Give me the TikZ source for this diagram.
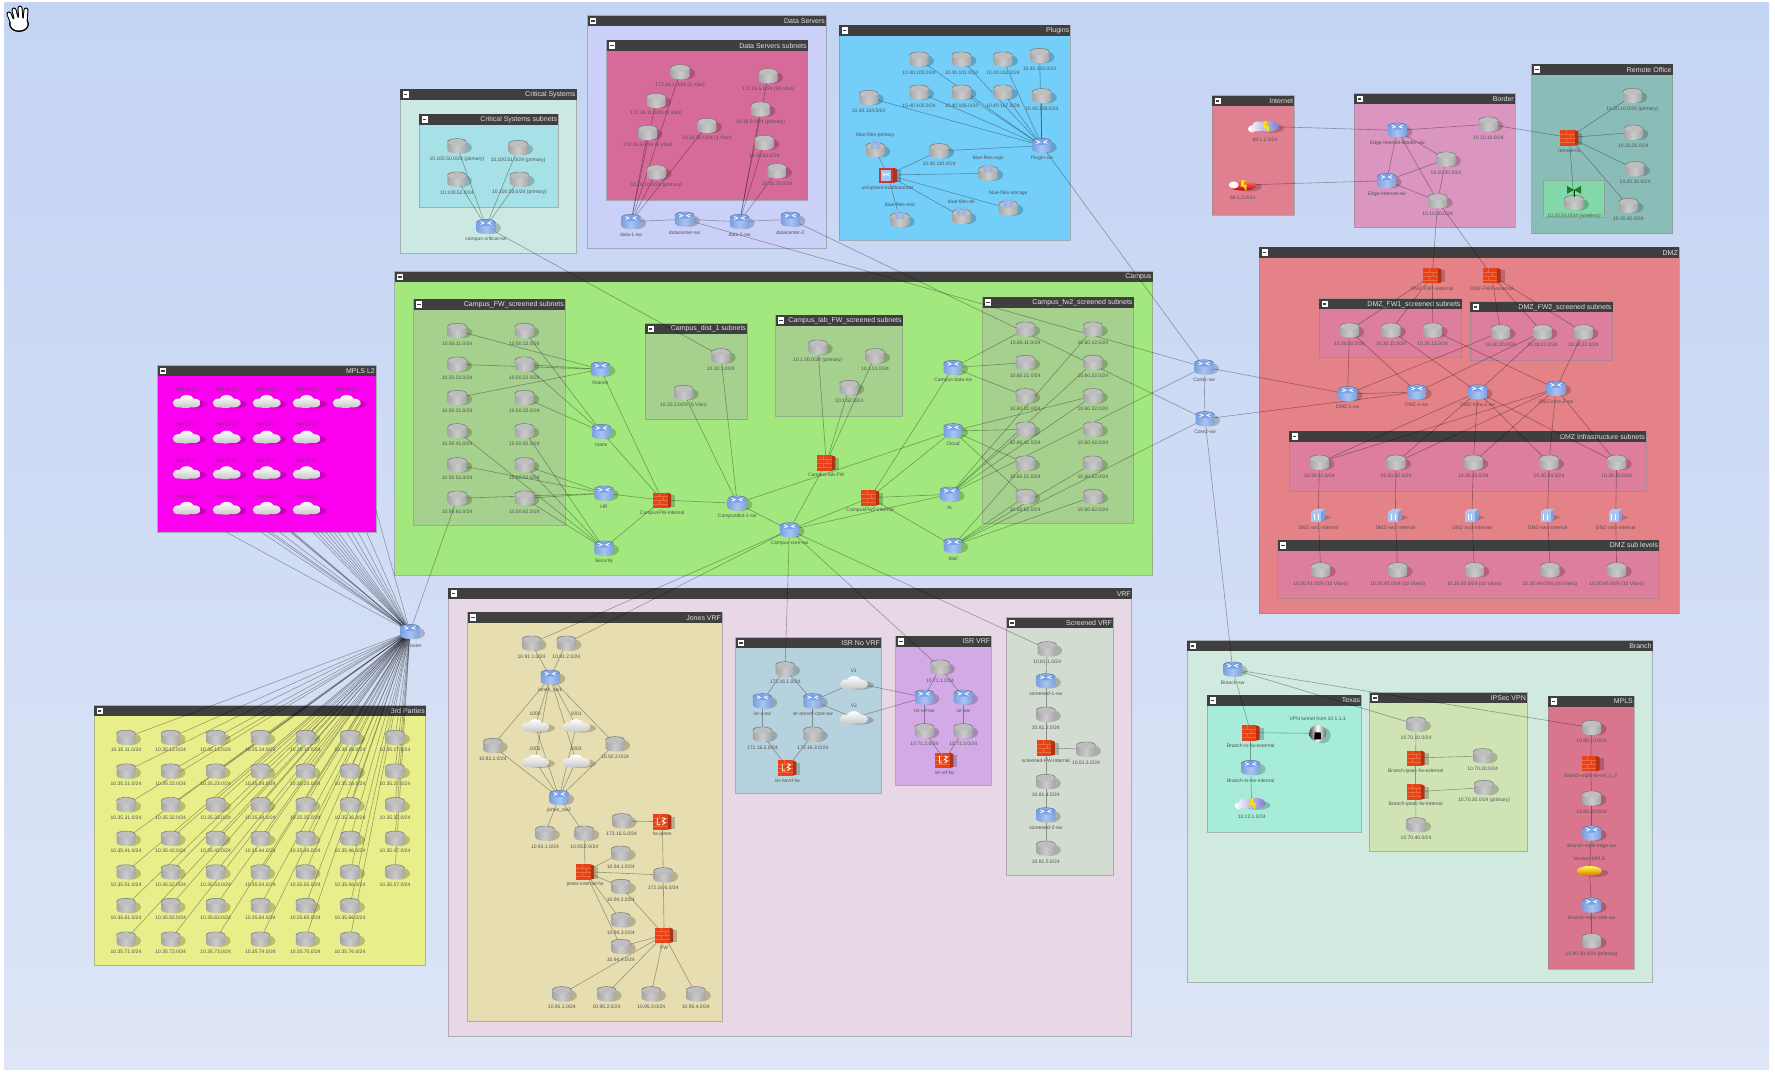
\documentclass[tikz,border=0pt]{standalone}
\usepackage{fontspec}
\setmainfont{Liberation Sans}
\usetikzlibrary{calc}
\pgfdeclarelayer{groups}
\pgfdeclarelayer{edges}
\pgfsetlayers{groups,edges,main}
\definecolor{barc}{HTML}{3F3F3F}
\definecolor{bgT}{HTML}{C4D4F4}\definecolor{bgB}{HTML}{DDE5F6}
\definecolor{srvL}{HTML}{A6A6A6}\definecolor{srvM}{HTML}{CBCBCB}\definecolor{srvT}{HTML}{BEBEBE}
\definecolor{rtrL}{HTML}{7C9FE0}\definecolor{rtrM}{HTML}{A8C4F0}\definecolor{rtrT}{HTML}{7AA2E6}
\definecolor{fwF}{HTML}{E8421A}\definecolor{fwS}{HTML}{B03214}\definecolor{fwL}{HTML}{EE6A3A}
\definecolor{antg}{HTML}{82D8A8}
\tikzset{
 sdw/.style={fill=black,opacity=.2},
 lbl/.style={font=\fontsize{5}{6}\selectfont,text=black!68,inner sep=0pt},
 ttl/.style={font=\fontsize{7}{8}\selectfont,text=white!88!black,inner sep=0pt,minimum height=10.5pt},
 grpbox/.style={draw=black!45,line width=1pt,draw opacity=.6},
 edge/.style={draw=black,opacity=.33,line width=.6pt},
}
\newcommand\myicyl[3]{%
 \fill[sdw] (5,1.5) ellipse [x radius=10pt,y radius=6pt];
 \shade[left color=#1,right color=#1,middle color=#2] (-9.5,-4) -- (-9.5,4) .. controls (-9.5,8.5) and (9.5,8.5) .. (9.5,4) -- (9.5,-4) .. controls (9.5,-8.5) and (-9.5,-8.5) .. (-9.5,-4) -- cycle;
 \fill[#3] (0,-3.6) ellipse [x radius=8.8pt,y radius=3pt];
 \draw[#1!65!black,line width=.4pt] (-9.5,-4) .. controls (-9.5,-8.5) and (9.5,-8.5) .. (9.5,-4);}
\newcommand\myicsrv{\myicyl{srvL}{srvM}{srvT}}
\newcommand\myicrtr{\myicyl{rtrL}{rtrM}{rtrT}%
 \draw[white,line width=.8pt] (-5.5,-5.2) -- (-2,-3.6) -- (-5.5,-2.2) (5.5,-5.2) -- (2,-3.6) -- (5.5,-2.2);}
\newcommand\myicfw{%
 \fill[sdw] (3,-5) rectangle (13,7);
 \fill[fwS] (5,-7.5) -- (9,-6) -- (9,7) -- (5,8) -- cycle;
 \fill[fwF] (-9,-7.5) rectangle (5.5,8);
 \draw[fwL,line width=.4pt] (-9,-3.5) -- (5.5,-3.5) (-9,0.5) -- (5.5,0.5) (-9,4.5) -- (5.5,4.5) (-3,-7.5) -- (-3,-3.5) (1,-3.5) -- (1,.5) (-3,.5) -- (-3,4.5);}
\newcommand\myicfwl{\myicfw
 \draw[white,line width=.8pt] (-5,-4) -- (-5,3) -- (-2,3) (0,-4) -- (3,-3) -- (0,-.5) -- (3,1) -- (0,3);}
\newcommand\mycloudpath{(-8,1.5) ellipse [x radius=6pt,y radius=4.5pt] (0,-1.5) ellipse [x radius=7pt,y radius=5pt] (7,1.5) ellipse [x radius=7pt,y radius=4.5pt] (-1,3) ellipse [x radius=9pt,y radius=3.5pt]}
\newcommand\myiccloud{%
 \fill[sdw] (5,2.5) ellipse [x radius=15pt,y radius=4.5pt];
 \shade[top color=white,bottom color=black!22] \mycloudpath;}
\newcommand\mybolt{\fill[yellow!85!orange] (-1,-5) -- (2,-5) -- (1,-.5) -- (4,-.5) -- (3.5,6) -- (.5,1.5) -- (-2,1.5) -- cycle;}
\newcommand\myicbolt{%
 \fill[sdw] (6,2) ellipse [x radius=13pt,y radius=4.5pt];
 \shade[left color=white,right color=blue!45!gray!70] (-13,2.5) ellipse [x radius=4pt,y radius=3.5pt] (-7,0) ellipse [x radius=6pt,y radius=5pt] (3,0) ellipse [x radius=11pt,y radius=5.5pt];
 \mybolt}
\newcommand\myicred{%
 \fill[sdw] (6,2) ellipse [x radius=13pt,y radius=4.5pt];
 \shade[top color=red!50!white,bottom color=red!75!black] (0,.5) ellipse [x radius=14pt,y radius=5pt];
 \fill[white] (-9,0) ellipse [x radius=5pt,y radius=3.5pt];
 \mybolt}
\newcommand\myicsw{%
 \fill[sdw] (2,-2) -- (13,2) -- (3,6) -- cycle;
 \fill[rtrL] (3,-3.5) -- (6.5,-6.5) -- (6.5,3) -- (3,7) -- cycle;
 \fill[rtrM] (-7,-3.5) rectangle (3,7);
 \fill[rtrT!60!white] (-7,-3.5) -- (-3,-6.5) -- (6.5,-6.5) -- (3,-3.5) -- cycle;
 \draw[white,line width=.6pt] (-4,-1) -- (-4,5) (-.5,-1) -- (-.5,5);}
\newcommand\myicplug{\myicsrv
 \fill[rtrT!80!white,rounded corners=1pt] (-4.5,-10) rectangle (-1,-1);
 \fill[rtrT!80!white,rounded corners=1pt] (1,-10) rectangle (4.5,-1);}
\newcommand\myichub{%
 \fill[sdw] (3,-5) rectangle (13,7);
 \fill[fwS] (5,-7.5) -- (9,-6) -- (9,7) -- (5,8) -- cycle;
 \fill[red!55!gray] (-9,-7.5) rectangle (5.5,8);
 \fill[rtrM] (-7,-5) rectangle (3,5.5);
 \draw[white,line width=.7pt] (-5,-2) -- (-2.5,-.5) -- (-5,1) (1.5,-2) -- (-1,-.5) -- (1.5,1);}
\newcommand\myicgold{%
 \fill[sdw] (6,2) ellipse [x radius=13pt,y radius=4pt];
 \shade[top color=yellow!70!white,bottom color=orange!85!black] (0,0) ellipse [x radius=12.5pt,y radius=5pt];}
\newcommand\myicball{%
 \fill[sdw] (5,2) circle [radius=8pt];
 \shade[left color=black!70,right color=black!60,middle color=white] (0,0) circle [radius=8.5pt];
 \fill[black] (-3,-1) -- (3,-1) -- (3.5,6) -- (-3.5,6) -- cycle;}
\newcommand\myicant{\myicsrv
 \fill[green!35!black,opacity=.75] (0,-13) -- (-7,-17) -- (-7,-9) -- cycle (0,-13) -- (7,-17) -- (7,-9) -- cycle;
 \draw[green!25!black,line width=.6pt] (0,-13) -- (0,-6);}
% device: [label offset] type name x y label
\newcommand\dv[6][13]{%
 \node[coordinate] (#3) at (#4,#5) {};
 \node[lbl] (#3-l) at ([yshift={-1pt*(#1)}]#3) {#6};
 \begin{scope}[shift={(#3)},x=1pt,y=-1pt]\csname myic#2\endcsname\end{scope}}
% group: name x1 y1 x2 y2 fill title
\newcommand\grp[7]{%
 \begin{pgfonlayer}{groups}
 \definecolor{grpc}{HTML}{#6}%
 \coordinate (#1-a) at (#2,#3);\coordinate (#1-b) at (#4,#5);
 \coordinate (#1-c) at ([yshift=-10.5pt]#1-a);\coordinate (#1-r) at (#1-b |- #1-a);
 \filldraw[grpbox,fill=grpc] (#1-a) rectangle (#1-b);
 \fill[barc] (#1-a) rectangle (#1-b |- #1-c);
 \node[ttl,anchor=north east] (#1-t) at ([xshift=-1pt]#1-r) {#7};
 \fill[white] ([xshift=2.5pt,yshift=-2pt]#1-a) rectangle ([xshift=8.5pt,yshift=-8.5pt]#1-a);
 \fill[barc] ([xshift=3.5pt,yshift=-4.5pt]#1-a) rectangle ([xshift=7pt,yshift=-6pt]#1-a);
 \end{pgfonlayer}}
\begin{document}
\begin{tikzpicture}[x=1pt,y=-1pt]
\useasboundingbox (0,0) rectangle (1775,1071);
\begin{pgfonlayer}{groups}
\fill[white] (0,0) rectangle (1775,1071);
\shade[top color=bgT,bottom color=bgB] (4.5,2.5) rectangle (1769,1069);
\end{pgfonlayer}
% hand cursor
\begin{scope}[line cap=round]
\node[coordinate] (hand) at (18,20) {};
\draw[black,line width=5pt] (9,14) -- (13,24) (14,10) -- (17,22) (20,8) -- (21,22) (26,10) -- (25,22);
\fill[black] (19,24) ellipse [x radius=10pt,y radius=8pt];
\draw[white,line width=3pt] (9,14) -- (13,24) (14,10) -- (17,22) (20,8) -- (21,22) (26,10) -- (25,22);
\fill[white] (19,24) ellipse [x radius=8.5pt,y radius=6.5pt];
\end{scope}

% ===== zone 1: critical, data, plugins
\begin{scope}[shift={(390,0)},x=.44643pt,y=-.33333pt]
\grp{gcrit}{23}{267}{418}{761}{CBE8E2}{Critical Systems}
\grp{gcrits}{65}{342}{377}{621}{A5E1E6}{Critical Systems subnets}
\grp{gdata}{443}{47}{977}{746}{CBD0F8}{Data Servers}
\grp{gdatas}{485}{121}{936}{601}{D66A98}{Data Servers subnets}
\grp{gplug}{1006}{75}{1524}{721}{73CFFA}{Plugins}
\dv{srv}{cs1}{150}{438}{10.100.50.0/24 (primary)}
\dv{srv}{cs2}{287}{443}{10.100.51.0/24 (primary)}
\dv{srv}{cs3}{150}{538}{10.100.52.0/24}
\dv{srv}{cs4}{290}{538}{10.100.53.0/24 (primary)}
\dv{rtr}{cr}{215}{680}{campus-critical-sw}
\dv{srv}{ds1}{650}{216}{172.16.1.0/24 (5 Vlan)}
\dv{srv}{ds2}{847}{228}{172.16.5.0/24 (50 Vlan)}
\dv{srv}{ds3}{596}{302}{172.16.11.0/24 (5 Vlan)}
\dv{srv}{ds4}{830}{328}{10.16.0.0/24 (primary)}
\dv{srv}{ds5}{710}{377}{10.16.50.0/24 (1 Vlan)}
\dv{srv}{ds6}{577}{398}{172.16.5.0/24 (5 Vlan)}
\dv{srv}{ds7}{838}{428}{10.16.60.0/24}
\dv{srv}{ds8}{597}{517}{10.16.10.0/24 (primary)}
\dv{srv}{ds9}{867}{513}{10.16.70.0/24}
\dv{rtr}{dr1}{540}{665}{data-1-sw}
\dv{rtr}{dr2}{660}{658}{datacenter-sw}
\dv{rtr}{dr3}{783}{665}{data-2-sw}
\dv{rtr}{dr4}{897}{658}{datacenter-2}
\dv{srv}{ps1}{1185}{178}{10.40.100.0/24}
\dv{srv}{ps2}{1280}{178}{10.40.101.0/24}
\dv{srv}{ps3}{1373}{178}{10.40.102.0/24}
\dv{srv}{ps4}{1455}{167}{10.40.103.0/24}
\dv{srv}{ps5}{1072}{293}{10.40.104.0/24}
\dv{srv}{ps6}{1185}{277}{10.40.105.0/24}
\dv{srv}{ps7}{1280}{277}{10.40.106.0/24}
\dv{srv}{ps8}{1373}{277}{10.40.107.0/24}
\dv{srv}{ps9}{1460}{288}{10.40.108.0/24}
\dv{rtr}{pr}{1460}{437}{Plugin-sw}
\dv{srv}{ps10}{1230}{453}{10.40.110.0/24}
\dv[-15]{plug}{pb1}{1087}{450}{blue-files-primary}
\dv[-15]{plug}{pb2}{1340}{520}{blue-files-sign}
\dv[-15]{plug}{pb3}{1142}{660}{blue-files-test}
\dv[-15]{plug}{pb4}{1280}{650}{blue-files-ok}
\dv[-15]{plug}{pb5}{1385}{625}{blue-files-storage}
\dv{hub}{phub}{1115}{525}{unisphere-loadbalancer}
\end{scope}

% ===== zone 2: campus
\begin{scope}[shift={(390,270)},x=.49745pt,y=-.33333pt]
\grp{gcamp}{10}{5}{1533}{916}{A2E87E}{Campus}
\grp{gfa}{48}{87}{352}{766}{A6D08E}{Campus\_FW\_screened subnets}
\grp{gdist}{513}{161}{718}{449}{A6D08E}{Campus\_dist\_1 subnets}
\grp{glab}{775}{136}{1031}{439}{A6D08E}{Campus\_lab\_FW\_screened subnets}
\grp{gfb}{1192}{82}{1495}{760}{A6D08E}{Campus\_fw2\_screened subnets}
\foreach \cc/\X in {1/135,2/270}
 \foreach \rr/\Y in {1/182,2/283,3/383,4/483,5/585,6/685}
  {\dv{srv}{fa\cc\rr}{\X}{\Y}{10.50.\rr\cc.0/24}}
\foreach \cc/\X in {1/1277,2/1413}
 \foreach \rr/\Y in {1/178,2/278,3/378,4/478,5/580,6/680}
  {\dv{srv}{fb\cc\rr}{\X}{\Y}{10.60.\rr\cc.0/24}}
\dv{rtr}{ca1}{423}{298}{finance}
\dv{rtr}{ca2}{425}{485}{loans}
\dv{rtr}{ca3}{430}{670}{HR}
\dv{rtr}{ca4}{430}{835}{Security}
\dv{fw}{cfw}{547}{690}{CampusFW-internal}
\dv{rtr}{cmid}{698}{700}{Campusdist-1-sw}
\dv{srv}{cd1}{665}{258}{10.20.1.0/24}
\dv{srv}{cd2}{590}{368}{10.20.2.0/24 (5 Vlan)}
\dv{srv}{cl1}{860}{232}{10.1.50.0/24 (primary)}
\dv{srv}{cl2}{975}{258}{10.1.51.0/24}
\dv{srv}{cl3}{923}{353}{10.1.52.0/24}
\dv{fw}{clf}{877}{578}{Campus-lab-FW}
\dv{rtr}{ccen}{803}{780}{Campus-core-sw}
\dv{fw}{cfr}{965}{683}{CampusFW2-internal}
\dv{rtr}{cb1}{1132}{293}{Campus-data-sw}
\dv{rtr}{cb2}{1132}{483}{Cloud}
\dv{rtr}{cb3}{1125}{673}{IA}
\dv{rtr}{cb4}{1132}{827}{Mail}
\end{scope}

% ===== zone 3: internet, border, remote office, DMZ
\begin{scope}[shift={(1200,60)},x=.33333pt,y=-.35714pt]
\grp{ginet}{37}{100}{283}{434}{E07F90}{Internet}
\grp{gbord}{462}{95}{945}{470}{DA96C0}{Border}
\grp{grem}{995}{12}{1418}{486}{8BBDB8}{Remote Office}
\begin{pgfonlayer}{groups}
\coordinate (gant-a) at (1030,336);\coordinate (gant-b) at (1212,442);
\filldraw[grpbox,fill=antg] (gant-a) rectangle (gant-b);
\end{pgfonlayer}
\grp{gdmz}{177}{524}{1437}{1550}{E58288}{DMZ}
\grp{gdf1}{358}{669}{785}{832}{DC7E9C}{DMZ\_FW1\_screened subnets}
\grp{gdf2}{810}{677}{1238}{842}{DC7E9C}{DMZ\_FW2\_screened subnets}
\grp{gdin}{267}{1040}{1338}{1208}{DC7E9C}{DMZ Infrastructure subnets}
\grp{gdsb}{233}{1344}{1378}{1507}{DC7E9C}{DMZ sub levels}
\dv{rtr}{core1}{12}{860}{Core1-sw}
\dv{rtr}{core2}{15}{1005}{Core2-sw}
\dv{bolt}{ib}{195}{186}{69.1.1.0/24}
\dv{red}{ir}{128}{350}{69.1.2.0/24}
\dv{rtr}{br1}{592}{197}{Edge-Internet-Border-sw}
\dv{srv}{bs1}{865}{180}{10.10.10.0/24}
\dv{srv}{bs2}{738}{278}{10.10.20.0/24}
\dv{rtr}{br2}{560}{338}{Edge-Internet-sw}
\dv{srv}{bs3}{713}{395}{10.10.30.0/24}
\dv{fw}{rf}{1108}{217}{remote-fw}
\dv{srv}{rs1}{1297}{100}{10.20.10.0/24 (primary)}
\dv{srv}{rs2}{1300}{203}{10.20.20.0/24}
\dv{srv}{rs3}{1305}{305}{10.20.30.0/24}
\dv{srv}{rs4}{1285}{408}{10.20.40.0/24}
\dv{ant}{rant}{1122}{400}{10.20.50.0/24 (wireless)}
\dv{fw}{df1}{697}{603}{DMZ-FW1-external}
\dv{fw}{df2}{875}{603}{DMZ-FW2-external}
\dv{srv}{da1}{448}{757}{10.30.10.0/24}
\dv{srv}{da2}{573}{757}{10.30.11.0/24}
\dv{srv}{da3}{698}{757}{10.30.12.0/24}
\dv{srv}{db1}{902}{762}{10.30.20.0/24}
\dv{srv}{db2}{1027}{762}{10.30.21.0/24}
\dv{srv}{db3}{1150}{762}{10.30.22.0/24}
\dv{rtr}{dm1}{443}{935}{DMZ-1-sw}
\dv{rtr}{dm2}{650}{930}{DMZ-2-sw}
\dv{rtr}{dm3}{833}{930}{DMZ-infra-1-sw}
\dv{rtr}{dm4}{1068}{920}{DMZ-infra-2-sw}
\foreach \cc/\X/\S/\T in {1/358/355/362,2/588/586/593,3/820/816/823,4/1047/1043/1050,5/1250/1247/1250}{
 \dv{srv}{di\cc}{\X}{1127}{10.30.3\cc.0/24}
 \dv[12]{sw}{dw\cc}{\S}{1275}{DMZ-sw\cc-internal}
 \dv[14]{srv}{ds0\cc}{\T}{1428}{10.30.4\cc.0/24 (10 Vlans)}
}
\end{scope}

% ===== zone 4: branch
\begin{scope}[shift={(1180,630)},x=.33333pt,y=-.33333pt]
\grp{gbra}{22}{32}{1418}{1058}{D0EAE0}{Branch}
\grp{gtx}{81}{195}{544}{606}{A6ECD8}{Texas}
\grp{gips}{569}{188}{1041}{665}{CFE3B5}{IPSec VPN}
\grp{gmpl}{1105}{198}{1362}{1018}{D9758C}{MPLS}
\dv{rtr}{br0}{158}{118}{Branch-sw}
\dv{fw}{tf}{212}{308}{Branch-tx-fw-external}
\dv[-15]{ball}{tb}{413}{310}{VPN tunnel from 10.1.1.1}
\dv{rtr}{tr}{212}{413}{Branch-tx-sw-internal}
\dv{bolt}{tc}{215}{520}{10.12.1.0/24}
\dv{srv}{is1}{708}{283}{10.70.10.0/24}
\dv{fw}{if1}{707}{384}{Branch-ipsec-fw-external}
\dv{srv}{is2}{908}{378}{10.70.20.0/24}
\dv{fw}{if2}{707}{485}{Branch-ipsec-fw-internal}
\dv{srv}{is3}{912}{473}{10.70.30.0/24 (primary)}
\dv{srv}{is4}{708}{585}{10.70.40.0/24}
\dv{srv}{ms1}{1235}{293}{10.80.10.0/24}
\dv{fw}{mf}{1232}{400}{Branch-mpls-fw-int\_1\_2}
\dv{srv}{ms2}{1235}{505}{10.80.20.0/24}
\dv{rtr}{mr1}{1235}{610}{Branch-mpls-edge-sw}
\dv[-12]{gold}{mg}{1228}{723}{Verizon-MPLS}
\dv{rtr}{mr2}{1235}{826}{Branch-mpls-core-sw}
\dv{srv}{ms3}{1235}{933}{10.80.30.0/24 (primary)}
\end{scope}

% ===== zone 5: VRF
\begin{scope}[shift={(440,580)},x=.44643pt,y=-.33333pt]
\grp{gvrf}{18}{25}{1550}{1368}{E8D8E6}{VRF}
\grp{gjon}{62}{97}{632}{1323}{E6DDB0}{Jones VRF}
\grp{gino}{662}{173}{988}{640}{B6D2DE}{ISR No VRF}
\grp{gisr}{1021}{168}{1235}{615}{D2AAE6}{ISR VRF}
\grp{gscr}{1269}{113}{1508}{885}{D2DCD0}{Screened VRF}
\dv{srv}{js1}{205}{190}{10.91.1.0/24}
\dv{srv}{js2}{283}{190}{10.91.2.0/24}
\dv{rtr}{jr1}{247}{292}{jones\_sw1}
\dv[-12]{cloud}{jc1}{213}{437}{1000}
\dv[-12]{cloud}{jc2}{305}{437}{1001}
\dv{srv}{js3}{118}{497}{10.92.1.0/24}
\dv{srv}{js4}{392}{492}{10.92.2.0/24}
\dv[-12]{cloud}{jc3}{213}{543}{1002}
\dv[-12]{cloud}{jc4}{305}{543}{1003}
\dv{rtr}{jr2}{267}{653}{jones\_sw2}
\dv{srv}{js5}{235}{760}{10.93.1.0/24}
\dv{srv}{js6}{323}{760}{10.93.2.0/24}
\dv{srv}{js7}{407}{723}{172.16.5.0/24}
\dv{fwl}{jl}{498}{725}{fw-jones}
\dv{srv}{js8}{405}{820}{10.94.1.0/24}
\dv{fw}{jf1}{325}{875}{jones-internal-fw}
\dv{srv}{js9}{500}{885}{172.16.6.0/24}
\dv{srv}{js10}{405}{920}{10.94.2.0/24}
\dv{srv}{js11}{405}{1020}{10.94.3.0/24}
\dv{fw}{jf2}{502}{1065}{FW}
\dv{srv}{js12}{405}{1100}{10.94.4.0/24}
\dv{srv}{jb1}{273}{1242}{10.95.1.0/24}
\dv{srv}{jb2}{373}{1242}{10.95.2.0/24}
\dv{srv}{jb3}{473}{1242}{10.95.3.0/24}
\dv{srv}{jb4}{573}{1242}{10.95.4.0/24}
\dv{srv}{ns0}{773}{267}{172.16.1.0/24}
\dv{rtr}{nr1}{722}{363}{isr-a-sw}
\dv{rtr}{nr2}{835}{363}{isr-nonvrf-core-sw}
\dv{srv}{ns1}{722}{463}{172.16.2.0/24}
\dv{srv}{ns2}{835}{463}{172.16.3.0/24}
\dv{fwl}{nl}{778}{563}{isr-novrf-fw}
\dv[-12]{cloud}{nc1}{927}{308}{V1}
\dv[-12]{cloud}{nc2}{927}{413}{V2}
\dv{srv}{vs0}{1120}{262}{10.71.1.0/24}
\dv{rtr}{vr1}{1085}{352}{isr-vrf-sw}
\dv{rtr}{vr2}{1172}{352}{isr-sw}
\dv{srv}{vs1}{1085}{453}{10.71.2.0/24}
\dv{srv}{vs2}{1172}{453}{10.71.3.0/24}
\dv{fwl}{vl}{1130}{540}{isr-vrf-fw}
\dv{srv}{ss1}{1360}{207}{10.81.1.0/24}
\dv{rtr}{sr1}{1357}{303}{screened-1-sw}
\dv{srv}{ss2}{1357}{403}{10.81.2.0/24}
\dv{fw}{sf}{1357}{503}{screened-FW-internal}
\dv{srv}{ss3}{1447}{508}{10.81.3.0/24}
\dv{srv}{ss4}{1357}{605}{10.81.4.0/24}
\dv{rtr}{sr2}{1357}{705}{screened-2-sw}
\dv{srv}{ss5}{1357}{805}{10.81.5.0/24}
\end{scope}

% ===== zone 6: MPLS L2, 3rd party, hub
\begin{scope}[shift={(80,360)},x=.33333pt,y=-.39541pt]
\grp{gml2}{233}{14}{888}{436}{FB00EE}{MPLS L2}
\grp{gtp}{43}{875}{1038}{1532}{E8EE8A}{3rd Parties}
\foreach \cc/\X in {1/320,2/440,3/560,4/680}
 \foreach \rr/\Y in {1/105,2/195,3/285,4/375}
  {\dv[-12]{cloud}{mc\cc\rr}{\X}{\Y}{site-\rr\cc-l2}}
\dv[-12]{cloud}{mc51}{800}{105}{site-15-l2}
\foreach \cc/\X in {1/138,2/272,3/407,4/541,5/676,6/810,7/945}
 \foreach \rr/\Y in {1/955,2/1040,3/1125,4/1210,5/1295}
  {\dv[12.5]{srv}{tp\cc\rr}{\X}{\Y}{10.35.\rr\cc.0/24}}
\foreach \cc/\X in {1/138,2/272,3/407,4/541,5/676,6/810}
 \foreach \rr/\Y in {6/1380,7/1465}
  {\dv[12.5]{srv}{tp\cc\rr}{\X}{\Y}{10.35.\rr\cc.0/24}}
\dv[14]{rtr}{hub}{990}{687}{hub-router}
\foreach \X in {440,545,565,575,600,632,636,640,700,712,725,738,750,762,775,800,815,835,860}
 \coordinate (mp\X) at (\X,436);
\coordinate (mp888) at (888,380);
\end{scope}

% ===== connectors
\begin{pgfonlayer}{edges}
\foreach \a/\b in {
 cr/cs1,cr/cs2,cr/cs3,cr/cs4,cr/cd1,
 dr1/ds1,dr1/ds3,dr1/ds5,dr1/ds6,dr1/ds8,
 dr3/ds2,dr3/ds4,dr3/ds7,dr3/ds9,dr1/dr2,dr2/dr3,dr3/dr4,dr2/core1,dr4/core2,
 pr/ps1,pr/ps2,pr/ps3,pr/ps4,pr/ps5,pr/ps6,pr/ps7,pr/ps8,pr/ps9,pr/ps10,
 phub/ps10,phub/pb1,phub/pb2,phub/pb3,phub/pb4,phub/pb5,pr/core1,
 ca1/fa11,ca1/fa12,ca1/fa22,ca1/fa13,ca2/fa21,ca2/fa22,ca2/fa23,
 ca3/fa15,ca3/fa16,ca3/fa25,ca3/fa26,ca4/fa14,ca4/fa24,ca4/fa25,ca4/fa26,
 ca1/cfw,ca2/cfw,ca3/cfw,ca4/cfw,cfw/cmid,cmid/cd1,cmid/cd2,cmid/ccen,cmid/cb2,
 ccen/clf,clf/cl1,clf/cl2,clf/cl3,ccen/cfr,ccen/cb3,cfr/cb1,cfr/cb2,cfr/cb3,cfr/cb4,
 cb1/fb11,cb1/fb12,cb1/fb13,cb2/fb14,cb2/fb15,cb2/fb16,cb2/fb23,
 cb3/fb21,cb3/fb22,cb3/fb23,cb3/fb14,cb4/fb15,cb4/fb16,cb4/fb25,cb4/fb26,
 cb3/core1,cb4/core2,core1/core2,core2/br0,fa16/hub,
 ib/br1,br1/bs1,bs1/rf,ir/br2,br1/br2,br1/bs2,br1/bs3,br2/bs2,br2/bs3,bs2/bs3,
 bs3/df1,bs3/df2,rf/rs1,rf/rs2,rf/rs3,rf/rs4,rf/rant,
 df1/da1,df1/da2,df1/da3,df2/db1,df2/db2,df2/db3,
 dm1/da1,dm2/da1,dm3/da2,dm4/da3,dm1/db1,dm2/db2,dm3/db2,dm4/db3,dm1/dm2,
 core1/dm1,core2/dm2,
 dm3/di1,dm3/di2,dm3/di3,dm3/di4,dm3/di5,dm4/di1,dm4/di2,dm4/di3,dm4/di4,dm4/di5,
 br0/tf,tf/tb,tf/tr,tr/tc,br0/is1,br0/ms1,is1/if1,if1/is2,if1/if2,if2/is3,if2/is4,
 ms1/mf,mf/ms2,ms2/mr1,mr1/mg,mg/mr2,mr2/ms3,
 ccen/js1,ccen/js2,ccen/ns0,ccen/vs0,ccen/ss1,
 js1/jr1,js2/jr1,jr1/jc1,jr1/jc2,jr1/jc3,jr1/jc4,jr1/js3,jr1/js4,
 jr2/jc1,jr2/jc2,jr2/jc3,jr2/jc4,jr2/js3,jr2/js4,jr2/js5,jr2/js6,js6/jf1,
 jf1/js8,jf1/js9,jf1/js10,jf1/js11,jf1/js12,js7/jl,jl/js9,js9/jf2,js10/jf2,js12/jf2,
 jf2/jb1,jf2/jb2,jf2/jb3,jf2/jb4,
 ns0/nr1,ns0/nr2,nr1/ns1,nr2/ns2,ns1/nl,ns2/nl,nr2/nc1,nr2/nc2,nc1/vr1,nc2/vr1,
 vs0/vr1,vs0/vr2,vr1/vs1,vr2/vs2,vs1/vl,vs2/vl,
 ss1/sr1,sr1/ss2,ss2/sf,sf/ss3,sf/ss4,ss4/sr2,sr2/ss5,
 hub/mp888}
 {\draw[edge] (\a) -- (\b);}
\foreach \cc in {1,...,5}{
 \draw[edge] (di\cc) -- (dw\cc);
 \draw[edge] (dw\cc) -- (ds0\cc);}
\foreach \X in {440,545,565,575,600,632,636,640,700,712,725,738,750,762,775,800,815,835,860}
 {\draw[edge] (hub) -- (mp\X);}
\foreach \cc in {1,...,7}\foreach \rr in {1,...,5}
 {\draw[edge] (hub) -- (tp\cc\rr);}
\foreach \cc in {1,...,6}\foreach \rr in {6,7}
 {\draw[edge] (hub) -- (tp\cc\rr);}
\end{pgfonlayer}
\end{tikzpicture}
\end{document}
